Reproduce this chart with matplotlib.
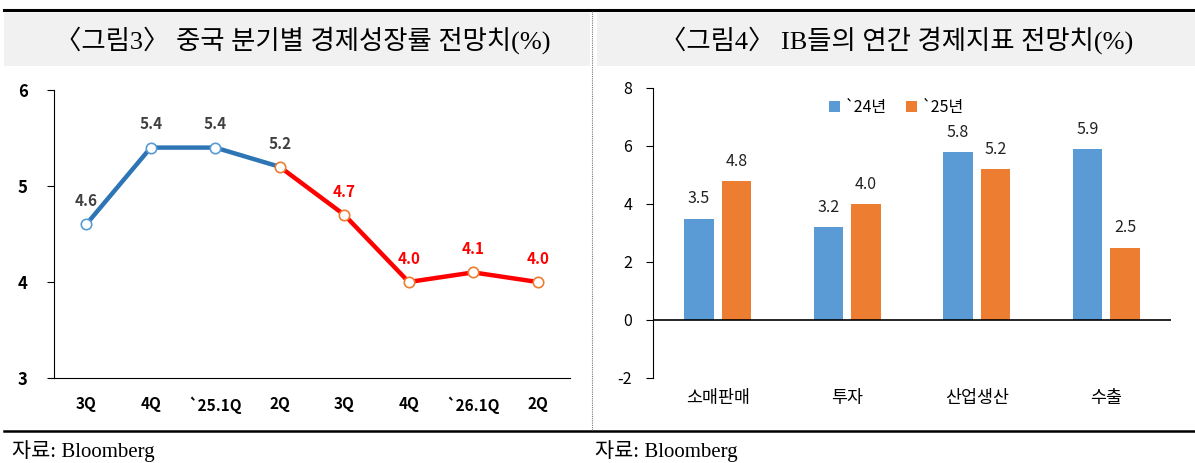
import matplotlib
matplotlib.use("Agg")
import matplotlib.pyplot as plt
from matplotlib.patches import Rectangle
from matplotlib.lines import Line2D

plt.rcParams['font.family'] = ['Noto Sans CJK KR', 'DejaVu Sans']
plt.rcParams['axes.unicode_minus'] = False

# data
quarters = ['3Q', '4Q', '`25.1Q', '2Q', '3Q', '4Q', '`26.1Q', '2Q']
growth = [4.6, 5.4, 5.4, 5.2, 4.7, 4.0, 4.1, 4.0]
split = 3  # last actual/blue point index

indicators = ['소매판매', '투자', '산업생산', '수출']
y24 = [3.5, 3.2, 5.8, 5.9]
y25 = [4.8, 4.0, 5.2, 2.5]
series_names = ['`24년', '`25년']

W, H = 1195, 463
fig = plt.figure(figsize=(W / 100, H / 100), dpi=100)


def fx(px):
    return px / W


def fy(py):
    return 1 - py / H


serif = ['Liberation Serif', 'Noto Sans CJK KR']

# frame: title bands, lines, separator
fig.add_artist(Rectangle((fx(4), fy(66)), fx(586), 53 / H, color='#f1f1f1', lw=0))
fig.add_artist(Rectangle((fx(597), fy(66)), fx(598), 53 / H, color='#f1f1f1', lw=0))
fig.add_artist(Line2D([fx(4), 1], [fy(10), fy(10)], color='black', lw=2.2))
fig.add_artist(Line2D([fx(4), 1], [fy(431), fy(431)], color='black', lw=1.8))
fig.add_artist(Line2D([fx(592), fx(592)], [fy(11), fy(430)], color='#777777', lw=0.8, ls=(0, (1, 1))))

fig.text(fx(303), fy(40), '〈그림3〉 중국 분기별 경제성장률 전망치(%)', ha='center', va='center',
         fontsize=19, family=serif)
fig.text(fx(897), fy(40), '〈그림4〉 IB들의 연간 경제지표 전망치(%)', ha='center', va='center',
         fontsize=19, family=serif)
fig.text(fx(12), fy(451), '자료: Bloomberg', ha='left', va='center', fontsize=15, family=serif)
fig.text(fx(595), fy(451), '자료: Bloomberg', ha='left', va='center', fontsize=15, family=serif)

# left: quarterly growth line
ax1 = fig.add_axes([fx(54), fy(378), fx(516), 288 / H])
x = list(range(len(quarters)))
ax1.plot(x[:split + 1], growth[:split + 1], color='#2e75b6', lw=3.2, zorder=2)
ax1.plot(x[split:], growth[split:], color='#ff0000', lw=3.2, zorder=2)
ax1.plot(x[:split], growth[:split], 'o', ms=7.5, mfc='white', mec='#5b9bd5', mew=1.2, zorder=3)
ax1.plot(x[split:], growth[split:], 'o', ms=7.5, mfc='white', mec='#ed7d31', mew=1.2, zorder=3)
for i, v in enumerate(growth):
    c = '#404040' if i <= split else '#ff0000'
    ax1.annotate(f'{v:.1f}', (i, v), xytext=(0, 11), textcoords='offset points',
                 ha='center', va='bottom', fontsize=11, fontweight='bold', color=c)
ax1.set_xlim(-0.5, len(quarters) - 0.5)
ax1.set_ylim(3, 6)
ax1.set_yticks([3, 4, 5, 6])
ax1.set_xticks(x)
ax1.set_xticklabels(quarters)
ax1.spines['top'].set_visible(False)
ax1.spines['right'].set_visible(False)
ax1.tick_params(axis='x', length=0, pad=13, labelsize=11)
ax1.tick_params(axis='y', length=5, pad=14, labelsize=12)
for t in ax1.get_xticklabels() + ax1.get_yticklabels():
    t.set_fontweight('bold')

# right: grouped bars
ax2 = fig.add_axes([fx(653), fy(378), fx(518), 290 / H])
xi = list(range(len(indicators)))
bw = 0.225
off = 0.145
b1 = ax2.bar([i - off for i in xi], y24, width=bw, color='#5b9bd5', label=series_names[0], zorder=2)
b2 = ax2.bar([i + off for i in xi], y25, width=bw, color='#ed7d31', label=series_names[1], zorder=2)
for bars, vals in ((b1, y24), (b2, y25)):
    for r, v in zip(bars, vals):
        ax2.annotate(f'{v:.1f}', (r.get_x() + r.get_width() / 2, v), xytext=(0, 8),
                     textcoords='offset points', ha='center', va='bottom', fontsize=11.5, color='#222222')
ax2.axhline(0, color='black', lw=1.2, zorder=3)
ax2.set_xlim(-0.5, len(indicators) - 0.5)
ax2.set_ylim(-2, 8)
ax2.set_yticks([-2, 0, 2, 4, 6, 8])
ax2.set_xticks(xi)
ax2.set_xticklabels(indicators)
for s in ('top', 'right', 'bottom'):
    ax2.spines[s].set_visible(False)
ax2.tick_params(axis='x', length=0, pad=8, labelsize=12.5)
ax2.tick_params(axis='y', length=5, pad=10, labelsize=11.5)
ax2.legend(loc='upper center', bbox_to_anchor=(0.47, 1.01), ncol=2, frameon=False, fontsize=11.5,
           handlelength=0.7, handleheight=0.7, handletextpad=0.3, columnspacing=1.2)

fig.savefig('out.png', dpi=100)
